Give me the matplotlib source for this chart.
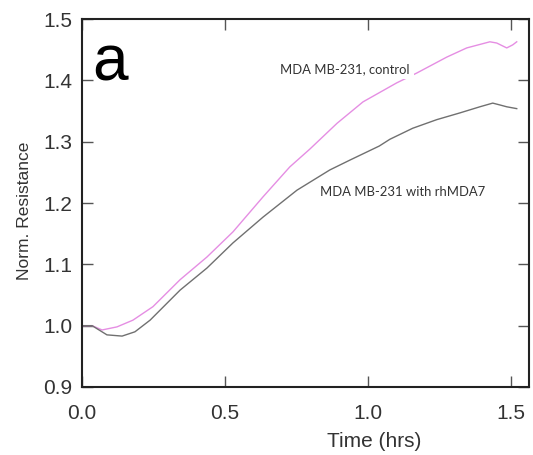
import matplotlib
matplotlib.use("Agg")
import matplotlib.pyplot as plt

# time (hrs) and normalized resistance
control_t = [0, 0.035, 0.07, 0.122, 0.178, 0.248, 0.343, 0.437, 0.528, 0.633, 0.727,
             0.797, 0.892, 0.983, 1.101, 1.171, 1.276, 1.346, 1.427, 1.451, 1.486,
             1.507, 1.521]
control_v = [1.0, 1.0, 0.993, 0.998, 1.009, 1.031, 1.075, 1.112, 1.153, 1.21, 1.259,
             1.288, 1.33, 1.365, 1.396, 1.412, 1.438, 1.453, 1.463, 1.461, 1.453,
             1.458, 1.463]

treated_t = [0, 0.035, 0.087, 0.14, 0.185, 0.238, 0.343, 0.437, 0.528, 0.633, 0.752,
             0.867, 0.937, 1.04, 1.077, 1.157, 1.241, 1.322, 1.392, 1.437, 1.462,
             1.486, 1.521]
treated_v = [1.0, 1.0, 0.985, 0.983, 0.99, 1.009, 1.058, 1.094, 1.135, 1.177, 1.221,
             1.254, 1.27, 1.293, 1.304, 1.322, 1.336, 1.347, 1.357, 1.363, 1.360,
             1.357, 1.354]

x_ticks = [0.0, 0.5, 1.0, 1.5]
y_ticks = [0.9, 1.0, 1.1, 1.2, 1.3, 1.4, 1.5]

plt.rcParams["font.family"] = ["Liberation Sans", "DejaVu Sans"]

fig = plt.figure(figsize=(5.33, 4.55), dpi=100)
ax = fig.add_axes([0.154, 0.1495, 0.838, 0.8085])

ax.plot(control_t, control_v, color="#e58ee3", lw=1.0, zorder=2)
ax.plot(treated_t, treated_v, color="#707070", lw=1.0, zorder=2)

ax.set_xlim(0, 1.563)
ax.set_ylim(0.9, 1.5)
ax.set_xticks(x_ticks)
ax.set_yticks(y_ticks)
ax.set_xticklabels(["%.1f" % v for v in x_ticks])
ax.set_yticklabels(["%.1f" % v for v in y_ticks])

ax.tick_params(direction="in", length=8, width=1, color="#555555",
               top=True, right=True, labelsize=15, labelcolor="#333333")
ax.tick_params(axis="x", pad=12)
ax.tick_params(axis="y", pad=7)
for s in ax.spines.values():
    s.set_linewidth(1.5)
    s.set_color("#222222")

ax.set_xlabel("Time (hrs)", fontsize=15, color="#333333")
ax.xaxis.set_label_coords(0.655, -0.122)
ax.set_ylabel("Norm. Resistance", fontsize=12.5, color="#333333")
ax.yaxis.set_label_coords(-0.112, 0.48)

ax.text(0.692, 1.419, "MDA MB-231, control", fontsize=9.4, family=["Lato", "DejaVu Sans"],
        color="#333333", ha="left", va="center", zorder=3,
        bbox=dict(facecolor="white", edgecolor="none", pad=3))
ax.text(0.832, 1.218, "MDA MB-231 with rhMDA7", fontsize=9.4, family=["Lato", "DejaVu Sans"],
        color="#333333", ha="left", va="center", zorder=3,
        bbox=dict(facecolor="white", edgecolor="none", pad=2))

ax.text(0.035, 1.40, "a", fontsize=46, color="black", ha="left", va="baseline")

fig.savefig("out.png", dpi=100)
